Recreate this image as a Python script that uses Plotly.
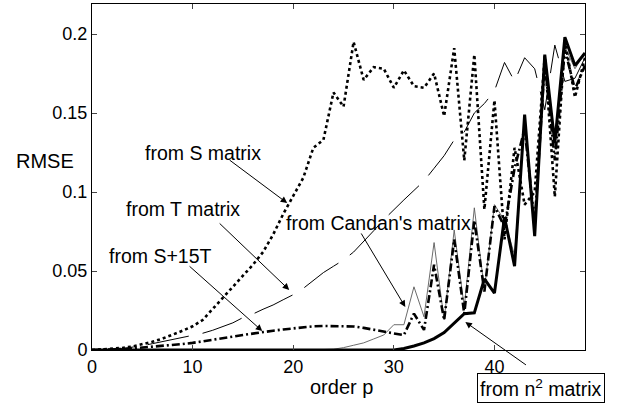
import plotly.graph_objects as go

# ---- data ----
p = list(range(50))

rmse_S = [0, 0.0003, 0.0007, 0.0013, 0.0022, 0.0035, 0.0052, 0.0072, 0.0095, 0.0122,
          0.0150, 0.0190, 0.0260, 0.0330, 0.0400, 0.0470, 0.0540, 0.0620, 0.0730, 0.0860,
          0.0980, 0.1090, 0.1280, 0.1330, 0.1630, 0.1540, 0.1950, 0.1710, 0.1790, 0.1780,
          0.1660, 0.1770, 0.1670, 0.1660, 0.1750, 0.1480, 0.1910, 0.1200, 0.1870, 0.0890,
          0.1580, 0.0700, 0.1280, 0.0920, 0.1000, 0.1860, 0.0970, 0.1960, 0.1600, 0.1850]

rmse_T = [0, 0.0001, 0.0004, 0.0009, 0.0016, 0.0027, 0.0040, 0.0053, 0.0066, 0.0079,
          0.0092, 0.0106, 0.0125, 0.0148, 0.0172, 0.0205, 0.0228, 0.0258, 0.0285, 0.0318,
          0.0350, 0.0390, 0.0440, 0.0490, 0.0530, 0.0570, 0.0620, 0.0685, 0.0755, 0.0825,
          0.0890, 0.0950, 0.1010, 0.1070, 0.1150, 0.1230, 0.1330, 0.1380, 0.1500, 0.1560,
          0.1640, 0.1820, 0.1700, 0.1850, 0.1780, 0.1520, 0.1930, 0.1700, 0.1720, 0.1850]

rmse_candan = [0, 0, 0, 0, 0, 0, 0, 0, 0, 0,
               0, 0, 0, 0, 0, 0, 0, 0, 0, 0,
               0.0001, 0.0001, 0.0002, 0.0003, 0.0005, 0.0015, 0.0030, 0.0045, 0.0070, 0.0095,
               0.0160, 0.0160, 0.0400, 0.0210, 0.0680, 0.0190, 0.0760, 0.0270, 0.0900, 0.0380,
               0.0920, 0.0820, 0.0600, 0.1480, 0.0750, 0.1850, 0.1300, 0.1920, 0.1780, 0.1880]

rmse_S15T = [0, 0.0001, 0.0003, 0.0006, 0.0010, 0.0015, 0.0020, 0.0026, 0.0032, 0.0038,
             0.0045, 0.0054, 0.0064, 0.0074, 0.0085, 0.0095, 0.0105, 0.0113, 0.0122, 0.0130,
             0.0138, 0.0145, 0.0150, 0.0152, 0.0152, 0.0151, 0.0149, 0.0140, 0.0127, 0.0115,
             0.0105, 0.0095, 0.0230, 0.0127, 0.0540, 0.0190, 0.0700, 0.0230, 0.0820, 0.0370,
             0.0910, 0.0780, 0.1150, 0.1400, 0.0800, 0.1820, 0.1200, 0.1900, 0.1650, 0.1800]

rmse_n2 = [0, 0, 0, 0, 0, 0, 0, 0, 0, 0,
           0, 0, 0, 0, 0, 0, 0, 0, 0, 0,
           0, 0, 0, 0, 0, 0, 0, 0, 0, 0,
           0, 0.0010, 0.0025, 0.0045, 0.0072, 0.0110, 0.0170, 0.0230, 0.0235, 0.0450,
           0.0360, 0.0840, 0.0530, 0.1490, 0.0720, 0.1870, 0.1310, 0.1980, 0.1800, 0.1880]

x_ticks = [0, 10, 20, 30, 40]
y_ticks = [0, 0.05, 0.1, 0.15, 0.2]
y_tick_text = ["0", "0.05", "0.1", "0.15", "0.2"]

FONT = "Liberation Sans, Arial, sans-serif"

fig = go.Figure()
fig.add_trace(go.Scatter(x=p, y=rmse_candan, mode="lines",
                         line=dict(color="#5a5a5a", width=0.9)))
fig.add_trace(go.Scatter(x=p, y=rmse_T, mode="lines",
                         line=dict(color="black", width=1, dash="42px,14px")))
fig.add_trace(go.Scatter(x=p, y=rmse_S, mode="lines",
                         line=dict(color="black", width=2.6, dash="dot")))
fig.add_trace(go.Scatter(x=p, y=rmse_S15T, mode="lines",
                         line=dict(color="black", width=2.6, dash="8px,3px,2px,3px")))
fig.add_trace(go.Scatter(x=p, y=rmse_n2, mode="lines",
                         line=dict(color="black", width=3)))

ann_font = dict(family=FONT, size=19.5, color="black")

# labels
labels = [
    ("from S matrix", 10.995, 0.1247),
    ("from T matrix", 9.005, 0.0892),
    ("from S+15T", 6.77, 0.0595),
    ("from Candan's matrix", 28.46, 0.0804),
]
for txt, lx, ly in labels:
    fig.add_annotation(x=lx, y=ly, xref="x", yref="y", text=txt, showarrow=False,
                       font=ann_font, xanchor="center", yanchor="middle")

# arrows (tail -> tip)
arrows = [
    (13.53, 0.1209, 19.40, 0.0930),
    (12.54, 0.0810, 19.60, 0.0380),
    (9.55, 0.0538, 16.92, 0.0120),
    (26.67, 0.0747, 31.14, 0.0272),
    (43.28, -0.0101, 37.11, 0.0177),
]
for tx, ty, hx, hy in arrows:
    fig.add_annotation(x=hx, y=hy, ax=tx, ay=ty, xref="x", yref="y", axref="x", ayref="y",
                       text="", showarrow=True, arrowhead=2, arrowsize=1.3,
                       arrowwidth=1, arrowcolor="black")

# boxed n^2 label
fig.add_annotation(x=0.9108, y=-0.1098, xref="paper", yref="paper",
                   text="from n<sup>2</sup> matrix", showarrow=False, font=ann_font,
                   bordercolor="black", borderwidth=1, borderpad=2, bgcolor="white",
                   xanchor="center", yanchor="middle")

# axis titles
fig.add_annotation(x=-0.0963, y=0.546, xref="paper", yref="paper", text="RMSE",
                   showarrow=False, xanchor="center", yanchor="middle",
                   font=dict(family=FONT, size=20, color="black"))
fig.add_annotation(x=0.5065, y=-0.107, xref="paper", yref="paper", text="order p",
                   showarrow=False, xanchor="center", yanchor="middle",
                   font=dict(family=FONT, size=20, color="black"))

fig.update_layout(
    width=622, height=406,
    margin=dict(l=92, r=37, t=4, b=56),
    paper_bgcolor="white", plot_bgcolor="white",
    showlegend=False,
    font=dict(family=FONT, size=18, color="black"),
    xaxis=dict(range=[0, 49], tickvals=x_ticks, ticks="inside", ticklen=5,
               showline=True, mirror="ticks", linecolor="black", linewidth=1,
               showgrid=False, zeroline=False, tickfont=dict(family=FONT, size=18)),
    yaxis=dict(range=[0, 0.219], tickvals=y_ticks, ticktext=y_tick_text,
               ticks="inside", ticklen=5, showline=True, mirror="ticks",
               linecolor="black", linewidth=1, showgrid=False, zeroline=False,
               tickfont=dict(family=FONT, size=18)),
)

fig.write_html("out.html", config={"displayModeBar": False},
               post_script="document.body.style.margin='0';document.body.style.overflow='hidden';")
